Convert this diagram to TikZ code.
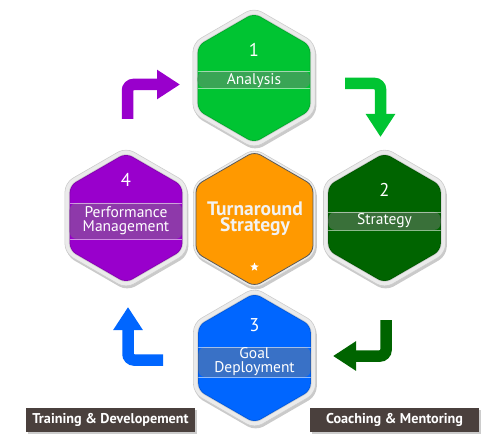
\documentclass[tikz,border=0pt]{standalone}
\usepackage{fontspec}
\setmainfont{PT Sans}
\usetikzlibrary{shapes.geometric,shadows,arrows.meta}
\definecolor{cGreen}{RGB}{0,196,50}
\definecolor{cDark}{RGB}{0,100,0}
\definecolor{cBlue}{RGB}{0,102,255}
\definecolor{cPurple}{RGB}{153,0,204}
\definecolor{cOrange}{RGB}{255,153,0}
\definecolor{cLabel}{RGB}{74,64,61}
\tikzset{
  hexouter/.style={regular polygon, regular polygon sides=6, shape border rotate=30,
    minimum size=141pt, inner sep=0pt, rounded corners=9pt, fill=black!8, draw=black!20,
    line width=0.6pt, drop shadow={shadow xshift=1.2pt, shadow yshift=-2.5pt, opacity=0.35, fill=black!60}},
  hexinner/.style={regular polygon, regular polygon sides=6, shape border rotate=30,
    minimum size=130pt, inner sep=0pt, rounded corners=7pt, draw=black, draw opacity=0.12, line width=1.5pt},
  hexband/.style n args={3}{path picture={
    \fill[#1!55!gray] ([yshift=#2]path picture bounding box.west) rectangle ([yshift=#3]path picture bounding box.east);
    \draw[white, opacity=0.55, line width=0.8pt] ([yshift=#2]path picture bounding box.west) -- ([yshift=#2]path picture bounding box.east);
    \draw[white, opacity=0.55, line width=0.8pt] ([yshift=#3]path picture bounding box.west) -- ([yshift=#3]path picture bounding box.east);}},
  numtxt/.style={text=white, anchor=base, font=\fontsize{18.5}{20}\selectfont, inner sep=0pt},
  hextxt/.style={text=white, anchor=base, font=\fontsize{15.5}{13}\selectfont, inner sep=0pt},
  hextwo/.style={text=white, align=center, anchor=center, font=\fontsize{15.5}{13.5}\selectfont, inner sep=0pt},
  midtxt/.style={align=center, anchor=center, font=\bfseries\fontsize{19.5}{16}\selectfont, inner sep=0pt},
  arr/.style={line width=11.5pt, rounded corners=6pt, -{Triangle[width=28pt,length=23pt]}},
  lbl/.style={fill=cLabel, text=white, font=\bfseries\fontsize{14.2}{16}\selectfont,
    minimum width=169pt, minimum height=24pt, inner sep=0pt,
    drop shadow={shadow xshift=1.5pt, shadow yshift=-1.5pt, fill=black!40, opacity=0.5}},
}
\begin{document}
\begin{tikzpicture}[x=1pt,y=-1pt]
\useasboundingbox (0,0) rectangle (500,438);
% arrows
\coordinate (a1s) at (127.5,119); \coordinate (a1c) at (127.5,84.5); \coordinate (a1e) at (180,84.5);
\draw[arr, cPurple] (a1s) -- (a1c) -- (a1e);
\coordinate (a2s) at (345,83.5); \coordinate (a2c) at (380.5,83.5); \coordinate (a2e) at (380.5,137);
\draw[arr, cGreen] (a2s) -- (a2c) -- (a2e);
\coordinate (a3s) at (386,320); \coordinate (a3c) at (386,356); \coordinate (a3e) at (333,356);
\draw[arr, cDark] (a3s) -- (a3c) -- (a3e);
\coordinate (a4s) at (163,360); \coordinate (a4c) at (128,360); \coordinate (a4e) at (128,307);
\draw[arr, cBlue] (a4s) -- (a4c) -- (a4e);
% hexagon 1
\node[hexouter] (o1) at (254,78) {};
\node[hexinner, fill=cGreen, hexband={cGreen}{7pt}{-10pt}] (h1) at (254,78) {};
\node[numtxt] (n1) at (254,57) {1};
\node[hextxt] (t1) at (254,85) {Analysis};
% hexagon 2
\node[hexouter] (o2) at (384.5,218) {};
\node[hexinner, fill=cDark, hexband={cDark}{6pt}{-12pt}] (h2) at (384.5,218) {};
\node[numtxt] (n2) at (384.5,197) {2};
\node[hextxt] (t2) at (384.5,225) {Strategy};
% hexagon 3
\node[hexouter] (o3) at (254.5,358) {};
\node[hexinner, fill=cBlue, hexband={cBlue}{11pt}{-19pt}] (h3) at (254.5,358) {};
\node[numtxt] (n3) at (254.5,331) {3};
\node[hextwo] (t3) at (254.5,361.5) {Goal\\Deployment};
% hexagon 4
\node[hexouter] (o4) at (126,218) {};
\node[hexinner, fill=cPurple, hexband={cPurple}{15pt}{-21pt}] (h4) at (126,218) {};
\node[numtxt] (n4) at (126,187) {4};
\node[hextwo] (t4) at (126,220.5) {Performance\\Management};
% centre hexagon
\node[hexouter] (oc) at (254.5,219) {};
\node[hexinner, minimum size=135pt, fill=cOrange, draw=black!65, draw opacity=1, line width=0.8pt] (hc) at (254.5,219) {};
\node[midtxt, text=white!95!black] (tc) at (255,219) {Turnaround\\Strategy};
\node[star, star points=5, star point ratio=2.3, fill=white, inner sep=0pt, minimum size=9pt] (st) at (254.5,267) {};
% labels
\node[lbl] (l1) at (110.5,420) {Training \& Developement};
\node[lbl] (l2) at (394.5,420) {Coaching \& Mentoring};
\end{tikzpicture}
\end{document}
